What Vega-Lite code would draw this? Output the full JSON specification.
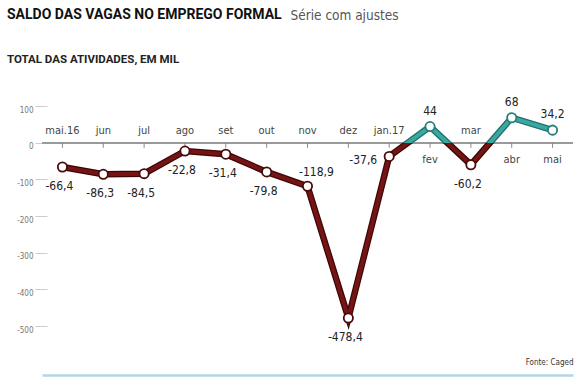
{
  "$schema": "https://vega.github.io/schema/vega-lite/v6.json",
  "width": 531,
  "height": 220,
  "autosize": {"type": "none"},
  "padding": {"left": 42, "top": 106, "right": 6, "bottom": 53},
  "background": "white",
  "title": {
    "text": "SALDO DAS VAGAS NO EMPREGO FORMAL",
    "subtitle": "TOTAL DAS ATIVIDADES, EM MIL",
    "anchor": "start",
    "frame": "group",
    "dx": -35,
    "offset": -57,
    "font": "Roboto",
    "fontSize": 14,
    "fontWeight": "bold",
    "color": "#111",
    "subtitleFont": "Roboto",
    "subtitleFontSize": 11.5,
    "subtitleFontWeight": "bold",
    "subtitleColor": "#222",
    "subtitlePadding": 32
  },
  "data": {
    "values": [
      {"m": "mai.16", "v": -66.4},
      {"m": "jun", "v": -86.3},
      {"m": "jul", "v": -84.5},
      {"m": "ago", "v": -22.8},
      {"m": "set", "v": -31.4},
      {"m": "out", "v": -79.8},
      {"m": "nov", "v": -118.9},
      {"m": "dez", "v": -478.4},
      {"m": "jan.17", "v": -37.6},
      {"m": "fev", "v": 44},
      {"m": "mar", "v": -60.2},
      {"m": "abr", "v": 68},
      {"m": "mai", "v": 34.2}
    ]
  },
  "encoding": {
    "x": {
      "field": "m",
      "type": "ordinal",
      "sort": null,
      "scale": {"type": "point", "padding": 0.5},
      "axis": {
        "labels": false,
        "ticks": false,
        "domain": true,
        "domainColor": "#b5d6e3",
        "domainWidth": 2.5,
        "offset": 49,
        "title": "Fonte: Caged",
        "titleAnchor": "end",
        "titleAlign": "right",
        "titleBaseline": "bottom",
        "titleY": -9,
        "titleFont": "DejaVu Sans Condensed",
        "titleFontSize": 8,
        "titleFontWeight": "normal",
        "titleColor": "#333"
      }
    },
    "y": {
      "field": "v",
      "type": "quantitative",
      "scale": {"domain": [-500, 100], "nice": false, "zero": false},
      "axis": {
        "values": [100, 0, -100, -200, -300, -400, -500],
        "format": "d",
        "offset": -5,
        "tickSize": 12,
        "tickColor": "#cccccc",
        "tickWidth": 1,
        "domain": false,
        "grid": false,
        "labelFont": "DejaVu Sans Condensed",
        "labelFontSize": 8,
        "labelColor": "#777",
        "labelPadding": 2,
        "labelOffset": 4,
        "title": "Série com ajustes",
        "titleAngle": 0,
        "titleX": 243,
        "titleY": -87,
        "titleAlign": "left",
        "titleBaseline": "alphabetic",
        "titleFont": "DejaVu Sans Condensed",
        "titleFontSize": 13.5,
        "titleFontWeight": "normal",
        "titleColor": "#555"
      }
    }
  },
  "layer": [
    {
      "mark": {"type": "rule", "color": "#9a9a9a", "strokeWidth": 1.5},
      "encoding": {"x": null, "y": {"datum": 0}}
    },
    {
      "mark": {"type": "rule", "color": "#888", "strokeWidth": 1},
      "encoding": {"y": {"datum": 0}, "y2": {"datum": -14}}
    },
    {
      "mark": {
        "type": "line",
        "strokeWidth": 6.5,
        "stroke": {
          "gradient": "linear",
          "x1": 0, "y1": 0, "x2": 0, "y2": 1,
          "stops": [
            {"offset": 0, "color": "#1f6f6a"},
            {"offset": 0.1244, "color": "#1f6f6a"},
            {"offset": 0.1246, "color": "#3a0606"},
            {"offset": 1, "color": "#3a0606"}
          ]
        }
      }
    },
    {
      "mark": {
        "type": "line",
        "strokeWidth": 4,
        "stroke": {
          "gradient": "linear",
          "x1": 0, "y1": 0, "x2": 0, "y2": 1,
          "stops": [
            {"offset": 0, "color": "#3aa8a0"},
            {"offset": 0.1244, "color": "#3aa8a0"},
            {"offset": 0.1246, "color": "#761414"},
            {"offset": 1, "color": "#761414"}
          ]
        }
      }
    },
    {
      "mark": {"type": "point", "filled": false, "fill": "white", "fillOpacity": 1, "opacity": 1, "size": 85, "strokeWidth": 1.8},
      "encoding": {
        "stroke": {"condition": {"test": "datum.v > 0", "value": "#23807a"}, "value": "#4a0a0a"}
      }
    },
    {
      "transform": [{"filter": "datum.v < 0"}],
      "mark": {"type": "text", "baseline": "middle", "dy": -12, "fontSize": 11, "color": "#444", "font": "DejaVu Sans Condensed"},
      "encoding": {"y": {"datum": 0}, "text": {"field": "m"}}
    },
    {
      "transform": [{"filter": "datum.v > 0"}],
      "mark": {"type": "text", "baseline": "middle", "dy": 17, "fontSize": 11, "color": "#444", "font": "DejaVu Sans Condensed"},
      "encoding": {"y": {"datum": 0}, "text": {"field": "m"}}
    },
    {
      "transform": [{"filter": "datum.v < 0 && datum.m != 'nov' && datum.m != 'jan.17'"}],
      "mark": {"type": "text", "baseline": "middle", "dy": 19, "dx": -3, "fontSize": 12, "color": "#222", "font": "DejaVu Sans Condensed"},
      "encoding": {"text": {"field": "v", "type": "quantitative", "format": "~g"}}
    },
    {
      "transform": [{"filter": "datum.v > 0"}],
      "mark": {"type": "text", "baseline": "middle", "dy": -16, "fontSize": 12, "color": "#222", "font": "DejaVu Sans Condensed"},
      "encoding": {"text": {"field": "v", "type": "quantitative", "format": "~g"}}
    },
    {
      "transform": [{"filter": "datum.m == 'nov'"}],
      "mark": {"type": "text", "baseline": "middle", "dy": -14, "dx": 9, "fontSize": 12, "color": "#222", "font": "DejaVu Sans Condensed"},
      "encoding": {"text": {"field": "v", "type": "quantitative", "format": "~g"}}
    },
    {
      "transform": [{"filter": "datum.m == 'jan.17'"}],
      "mark": {"type": "text", "baseline": "middle", "align": "right", "dy": 4, "dx": -12, "fontSize": 12, "color": "#222", "font": "DejaVu Sans Condensed"},
      "encoding": {"text": {"field": "v", "type": "quantitative", "format": "~g"}}
    }
  ],
  "config": {
    "view": {"stroke": null},
    "font": "DejaVu Sans Condensed",
    "locale": {
      "number": {
        "decimal": ",",
        "thousands": ".",
        "grouping": [3],
        "currency": ["R$", ""],
        "minus": "-"
      }
    }
  }
}
